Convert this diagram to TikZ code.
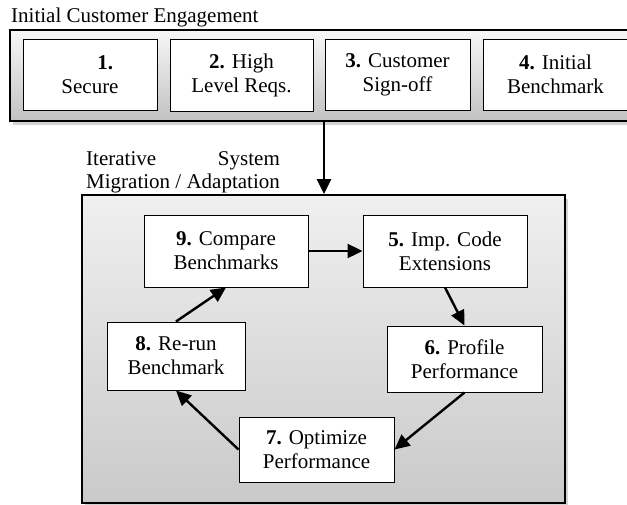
\documentclass[tikz,border=0pt]{standalone}
\usepackage{fontspec}
\setmainfont{Liberation Serif}
\usetikzlibrary{arrows.meta,shadows}
\newlength\labwidth
\begin{document}
\begin{tikzpicture}[x=1pt,y=-1pt,
  every node/.style={font=\fontsize{21}{24}\selectfont},
  stagebox/.style={draw=black,line width=1pt,fill=white,inner sep=0pt,align=center},
  phase/.style={draw=black,line width=1.8pt,inner sep=0pt,
    drop shadow={shadow xshift=2.5pt,shadow yshift=-3.5pt,opacity=0.35}},
  caption/.style={inner sep=0pt,anchor=base west},
  flow/.style={line width=2.4pt,-{Triangle[length=15pt,width=14pt]}}]
\useasboundingbox (0,0) rectangle (627,504);
% engagement phase
\node[phase,top color=black!3,bottom color=black!24,
  minimum width=640pt,minimum height=91pt] (eng) at (330,75.5) {};
\node[caption] (engtitle) at (11,22) {Initial Customer Engagement};
\node[stagebox,minimum width=134pt,minimum height=71pt] (s1) at (90,74.5)
  {\hspace*{1.45em}\textbf{1.}\\Secure};
\node[stagebox,minimum width=143pt,minimum height=72pt] (s2) at (241.5,75)
  {\textbf{2.} High\\Level Reqs.};
\node[stagebox,minimum width=145pt,minimum height=71pt] (s3) at (397.5,74.5)
  {\textbf{3.} Customer\\Sign-off};
\node[stagebox,minimum width=145pt,minimum height=71pt] (s4) at (555.5,74.5)
  {\textbf{4.} Initial\\Benchmark};
% iterative phase
\node[phase,top color=black!6,bottom color=black!21,
  minimum width=483pt,minimum height=308pt] (mig) at (323.5,349) {};
\node[caption] (migtitleA) at (86,165)
  {\settowidth\labwidth{Migration / Adaptation}\makebox[\labwidth][s]{Iterative System}};
\node[caption] (migtitleB) at (86,188) {Migration / Adaptation};
\node[stagebox,minimum width=164pt,minimum height=72pt] (s9) at (226,251)
  {\textbf{9.} Compare\\Benchmarks};
\node[stagebox,minimum width=164pt,minimum height=72pt] (s5) at (445,251)
  {\textbf{5.} Imp. Code\\Extensions};
\node[stagebox,minimum width=138pt,minimum height=68pt] (s8) at (176,356)
  {\textbf{8.} Re-run\\Benchmark};
\node[stagebox,minimum width=155pt,minimum height=66pt] (s6) at (464.5,359)
  {\textbf{6.} Profile\\Performance};
\node[stagebox,minimum width=155pt,minimum height=65pt] (s7) at (316.5,449.5)
  {\textbf{7.} Optimize\\Performance};
% connectors
\coordinate (drop) at (324,0);
\draw[flow] (drop |- eng.south) -- (drop |- mig.north);
\draw[flow] (s9.east) -- (s5.west);
\draw[flow] (s5.south) -- (s6.north);
\draw[flow] (s6.south) -- (s7.east);
\draw[flow] (s7.west) -- (s8.south);
\draw[flow] (s8.north) -- (s9.south);
\end{tikzpicture}
\end{document}
